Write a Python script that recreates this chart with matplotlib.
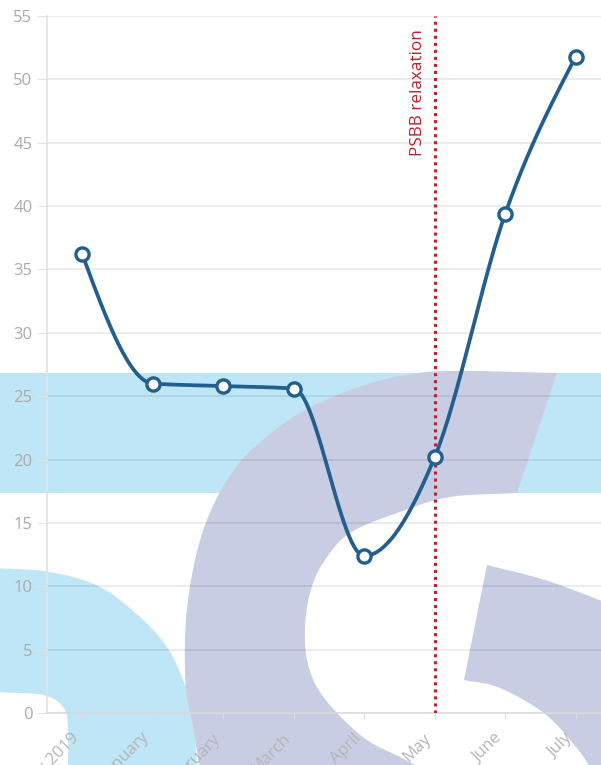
import numpy as np
import matplotlib
matplotlib.use("Agg")
import matplotlib.pyplot as plt
from matplotlib.path import Path
from matplotlib.patches import PathPatch, Rectangle
from matplotlib.transforms import ScaledTranslation

plt.rcParams['font.family'] = ['Open Sans', 'DejaVu Sans']

# data
months = ["December 2019", "January", "February", "March", "April", "May", "June", "July"]
values = [36.2, 26.0, 25.8, 25.6, 12.4, 20.2, 39.4, 51.8]
marker_month = "May"
marker_text = "PSBB relaxation"

W, H = 601, 765
LINE_BLUE = "#225f8e"
RED = "#b9232f"


def monotone_x(x, y, n=40):
    # d3 curveMonotoneX style interpolation
    x = np.asarray(x, float)
    y = np.asarray(y, float)
    h = np.diff(x)
    s = np.diff(y) / h
    t = np.zeros_like(y)
    for i in range(1, len(y) - 1):
        p = (s[i - 1] * h[i] + s[i] * h[i - 1]) / (h[i - 1] + h[i])
        t[i] = (np.sign(s[i - 1]) + np.sign(s[i])) * min(abs(s[i - 1]), abs(s[i]), 0.5 * abs(p))
    t[0] = (3 * s[0] - t[1]) / 2
    t[-1] = (3 * s[-1] - t[-2]) / 2
    xs, ys = [], []
    for i in range(len(h)):
        u = np.linspace(0, 1, n)
        h00 = 2 * u**3 - 3 * u**2 + 1
        h10 = u**3 - 2 * u**2 + u
        h01 = -2 * u**3 + 3 * u**2
        h11 = u**3 - u**2
        xs.append(x[i] + u * h[i])
        ys.append(h00 * y[i] + h10 * h[i] * t[i] + h01 * y[i + 1] + h11 * h[i] * t[i + 1])
    return np.concatenate(xs), np.concatenate(ys)


def smooth(pts, n=12):
    # catmull-rom through pixel points
    pts = np.asarray(pts, float)
    p = np.vstack([pts[0] * 2 - pts[1], pts, pts[-1] * 2 - pts[-2]])
    out = []
    for i in range(1, len(p) - 2):
        p0, p1, p2, p3 = p[i - 1], p[i], p[i + 1], p[i + 2]
        for u in np.linspace(0, 1, n, endpoint=False):
            out.append(0.5 * ((2 * p1) + (-p0 + p2) * u + (2 * p0 - 5 * p1 + 4 * p2 - p3) * u**2
                              + (-p0 + 3 * p1 - 3 * p2 + p3) * u**3))
    out.append(pts[-1])
    return np.array(out)


def px_patch(pieces, color):
    pts = np.vstack(pieces)
    pts = np.column_stack([pts[:, 0] / W, 1 - pts[:, 1] / H])
    return PathPatch(Path(pts, closed=False), facecolor=color, edgecolor="none",
                     transform=fig.transFigure, zorder=0)


fig = plt.figure(figsize=(W / 100, H / 100), dpi=100)
fig.patch.set_facecolor("white")

# background watermark
fig.add_artist(Rectangle((0, 1 - 493 / H), 1, 120 / H, transform=fig.transFigure,
                         facecolor="#bee6f7", edgecolor="none", zorder=0))
fig.add_artist(px_patch([
    smooth([(-5, 568), (50, 572), (100, 587), (140, 617), (167, 647), (183, 680),
            (193, 713), (197, 770)]),
    smooth([(68, 770), (68, 727), (63, 707), (43, 695), (-5, 692)]),
], "#bee6f7"))
fig.add_artist(px_patch([
    smooth([(200, 770), (193, 727), (186, 690), (185, 640), (188, 600), (195, 560),
            (205, 525), (220, 492), (240, 462), (265, 438), (300, 413), (350, 390),
            (400, 376), (450, 371), (557, 373)]),
    smooth([(517, 493), (450, 497), (400, 512), (350, 533), (323, 563), (310, 593),
            (305, 627), (307, 660), (317, 687), (337, 713), (367, 740), (400, 757), (425, 770)]),
], "#c9cde3"))
fig.add_artist(px_patch([
    smooth([(487, 565), (545, 580), (605, 602)]),
    np.array([(605, 770)]),
    smooth([(592, 770), (576, 747), (545, 714), (500, 688), (464, 680)]),
], "#c9cde3"))

ax = fig.add_axes([47 / W, 1 - 713 / H, (611 - 47) / W, (713 - 16) / H])
ax.set_facecolor("none")

x = np.arange(len(months))
cx, cy = monotone_x(x, values)
ax.plot(cx, cy, color=LINE_BLUE, lw=2.7, zorder=4, solid_capstyle="round")
ax.plot(x, values, "o", ms=9.5, mfc="white", mec=LINE_BLUE, mew=2.4, zorder=5)

mx = months.index(marker_month)
ax.axvline(mx, color=RED, lw=2.2, ls=(0, (1, 1.3)), zorder=3)
ax.text(mx - 0.12, 54.0, marker_text, rotation=90, color=RED, fontsize=12.3,
        ha="right", va="top", zorder=6)

ax.set_xlim(-0.5, len(months) - 0.5)
ax.set_ylim(0, 55)
ax.set_yticks(np.arange(0, 56, 5))
ax.set_xticks(x)
ax.set_xticklabels(months, rotation=45, ha="right")
off = ScaledTranslation(8 / 100, 0, fig.dpi_scale_trans)
for lab in ax.get_xticklabels():
    lab.set_transform(lab.get_transform() + off)

ax.grid(axis="y", color="#000000", alpha=0.09, lw=1.2, zorder=1)
ax.set_axisbelow(True)
for side in ["top", "right"]:
    ax.spines[side].set_visible(False)
ax.spines["left"].set_color("#e3e3e3")
ax.spines["left"].set_linewidth(1.2)
ax.spines["bottom"].set_color("#dcdcdc")
ax.spines["bottom"].set_linewidth(1.2)
ax.tick_params(axis="y", length=7, color="#e3e3e3", labelcolor="#ababab", labelsize=12, pad=3.5)
ax.tick_params(axis="x", length=4.5, color="#dcdcdc", labelcolor="#b5b5b5", labelsize=12, pad=8)

fig.savefig("out.png", dpi=100)
